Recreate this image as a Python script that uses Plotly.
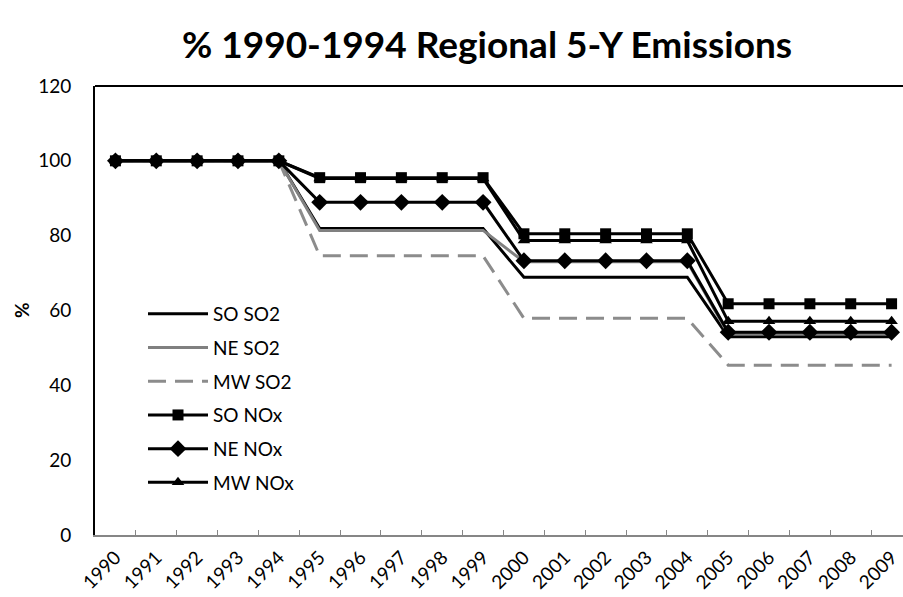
import plotly.graph_objects as go

years = [str(y) for y in range(1990, 2010)]

so_so2 = [100]*5 + [81.9]*5 + [68.9]*5 + [53.0]*5
ne_so2 = [100]*5 + [81.4]*5 + [73.0]*5 + [53.7]*5
mw_so2 = [100]*5 + [74.6]*5 + [57.9]*5 + [45.4]*5
so_nox = [100]*5 + [95.5]*5 + [80.5]*5 + [61.8]*5
ne_nox = [100]*5 + [88.9]*5 + [73.3]*5 + [54.2]*5
mw_nox = [100]*5 + [95.3]*5 + [78.7]*5 + [57.1]*5

series = [
    ("SO SO2", so_so2, dict(color="black", width=3), None),
    ("NE SO2", ne_so2, dict(color="#808080", width=3), None),
    ("MW SO2", mw_so2, dict(color="#8c8c8c", width=3, dash="18px,9px"), None),
    ("SO NOx", so_nox, dict(color="black", width=3), dict(symbol="square", size=11, color="black")),
    ("NE NOx", ne_nox, dict(color="black", width=3), dict(symbol="diamond", size=13, color="black")),
    ("MW NOx", mw_nox, dict(color="black", width=3), dict(symbol="triangle-up", size=11, color="black")),
]

FONT = "Lato"
W, H = 903, 597
L, R, T, B = 95, 0, 86, 62
pw = W - L - R
ph = H - T - B

fig = go.Figure()
for i, (name, vals, line, marker) in enumerate(series):
    fig.add_trace(go.Scatter(
        x=years, y=vals, name=name,
        mode="lines+markers" if marker else "lines",
        line=line, marker=marker, legendgroup=f"g{i}",
    ))

step = 40.85
xmax = -0.5 + pw / step

fig.update_layout(
    width=W, height=H,
    margin=dict(l=L, r=R, t=T, b=B),
    paper_bgcolor="white", plot_bgcolor="white",
    font=dict(family=FONT, size=19, color="black"),
    title=dict(text="<b>% 1990-1994 Regional 5-Y Emissions</b>",
               font=dict(family=FONT, size=37, color="black"),
               x=487 / W, xanchor="center", y=1 - 45 / H, yanchor="middle"),
    showlegend=True,
    legend=dict(x=(143 - L) / pw, y=(535 - 295) / ph, xanchor="left", yanchor="top",
                bgcolor="rgba(0,0,0,0)", font=dict(family=FONT, size=19),
                traceorder="grouped", tracegroupgap=6, itemwidth=60),
    xaxis=dict(type="category", range=[-0.5, xmax], tickangle=-45, automargin=False,
               showline=True, linecolor="#868686", linewidth=2,
               ticks="inside", ticklen=5, tickcolor="#868686", tickson="boundaries",
               showgrid=False, zeroline=False, ticklabelstandoff=2,
               tickfont=dict(family=FONT, size=19)),
    yaxis=dict(range=[0, 120], dtick=20, showline=True, linecolor="black", linewidth=2,
               ticks="", showgrid=False, zeroline=False, ticklabelstandoff=18,
               automargin=False, tickfont=dict(family=FONT, size=19)),
    shapes=[dict(type="line", xref="paper", yref="paper", x0=0, x1=1, y0=1, y1=1,
                 line=dict(color="black", width=2))],
    annotations=[dict(text="<b>%</b>", xref="paper", yref="paper",
                      x=(21 - L) / pw, y=(535 - 310) / ph, showarrow=False,
                      textangle=-90, font=dict(family=FONT, size=19),
                      xanchor="center", yanchor="middle")],
)

fig.write_html("out.html", config={"displayModeBar": False},
               post_script="document.body.style.margin='0';document.body.style.overflow='hidden';")
